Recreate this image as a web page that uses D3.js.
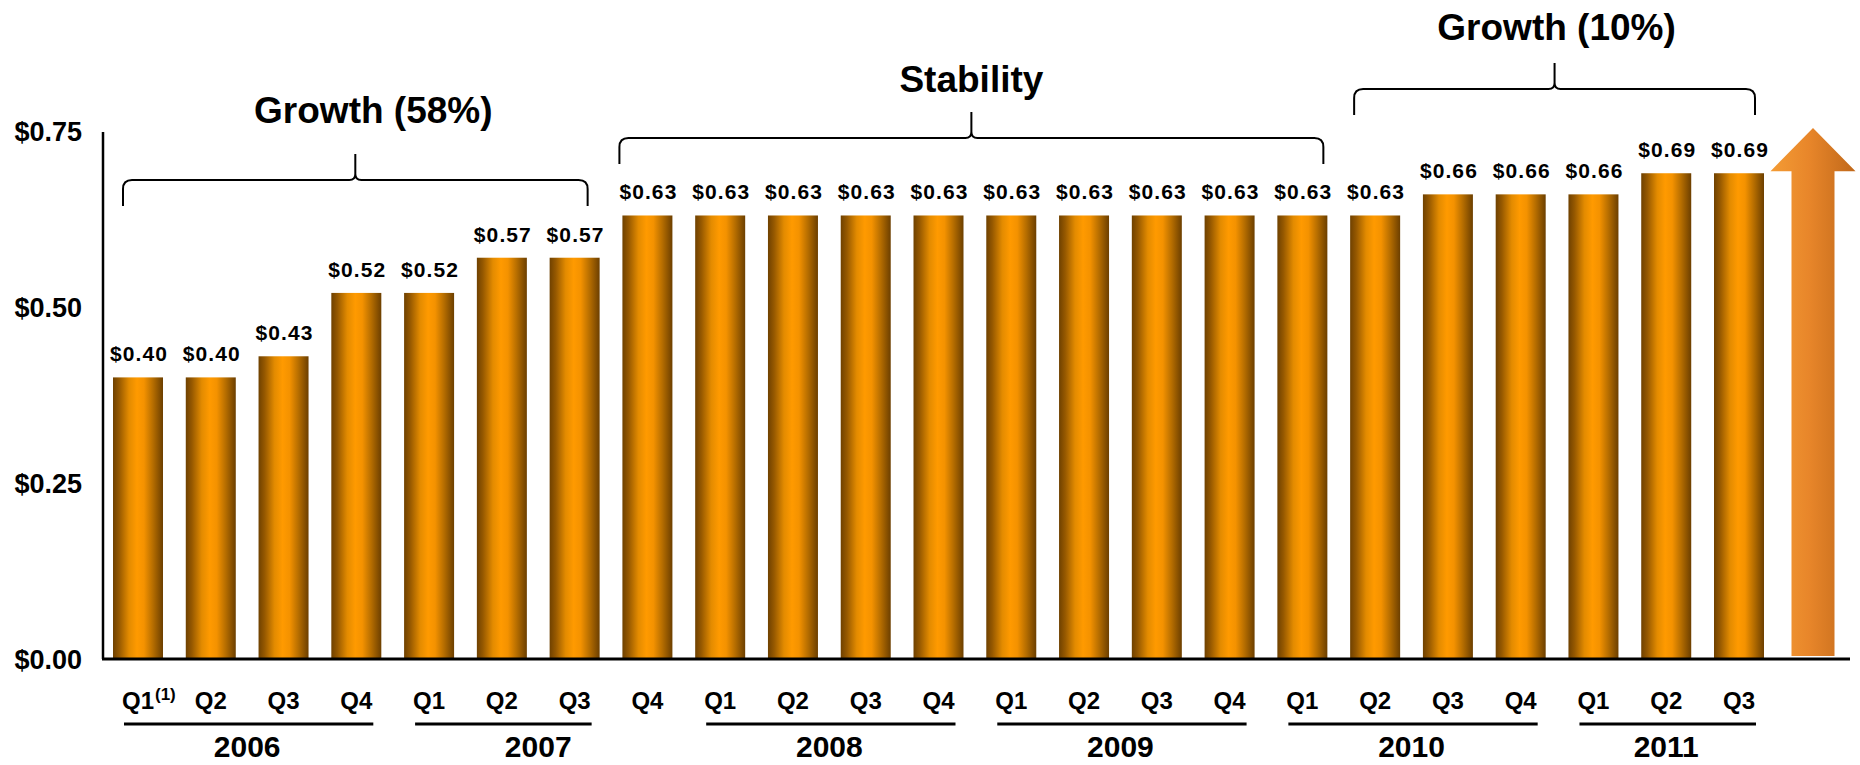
<!DOCTYPE html>
<html>
<head>
<meta charset="utf-8">
<script src="https://cdn.jsdelivr.net/npm/d3@7"></script>
<style>
  html, body { margin: 0; padding: 0; background: #fff; }
  svg { display: block; }
  text { font-family: "Liberation Sans", Arial, Helvetica, sans-serif; font-weight: bold; fill: #000; }
</style>
</head>
<body>
<svg id="chart" width="1860" height="765"></svg>
<script>
// ---------- data ----------
const categories = ["Q1","Q2","Q3","Q4","Q1","Q2","Q3","Q4","Q1","Q2","Q3","Q4",
                    "Q1","Q2","Q3","Q4","Q1","Q2","Q3","Q4","Q1","Q2","Q3"];
const values = [0.40,0.40,0.43,0.52,0.52,0.57,0.57,0.63,0.63,0.63,0.63,0.63,
                0.63,0.63,0.63,0.63,0.63,0.63,0.66,0.66,0.66,0.69,0.69];
const footnoteMarks = ["(1)"];            // attached to the first category
const yTicks = [0, 0.25, 0.50, 0.75];
const yTickLabels = ["$0.00","$0.25","$0.50","$0.75"];
const years = ["2006","2007","2008","2009","2010","2011"];
const yearFirst = [0, 4, 8, 12, 16, 20];
const yearLast = [3, 7, 11, 15, 19, 22];
const yearUnderlineLast = [3, 6, 11, 15, 19, 22];
const phases = ["Growth (58%)","Stability","Growth (10%)"];
const phaseFirst = [0, 7, 17];
const phaseLast = [6, 16, 22];

// ---------- layout ----------
const svg = d3.select("#chart");
const x = d3.scaleBand().domain(d3.range(categories.length))
  .range([113, 1764]).paddingInner(0.313).paddingOuter(0);
const y = d3.scaleLinear().domain([0, 0.75]).range([659, 131]);
const axisX0 = 103, axisX1 = 1850;

// bracket layout (per phase): horizontal line y, end insets, title baseline, title shift
const bracketLayout = [
  { h: 180, inL: 10, inR: 12, tb: 123, tdx: 18 },
  { h: 138, inL: -3, inR: 4, tb: 92, tdx: 0 },
  { h: 89,  inL: 4,  inR: 9, tb: 40, tdx: 2 }
];

// ---------- gradients ----------
const defs = svg.append("defs");
const bg = defs.append("linearGradient").attr("id","barGrad")
  .attr("x1","0%").attr("x2","100%").attr("y1","0%").attr("y2","0%");
[["0%","#6f4100"],["12%","#955800"],["32%","#e38b00"],["48%","#ff9a00"],
 ["62%","#f49200"],["80%","#b56d00"],["100%","#6c3f00"]]
  .forEach(([o,c]) => bg.append("stop").attr("offset",o).attr("stop-color",c));
const ag = defs.append("linearGradient").attr("id","arrowGrad")
  .attr("x1","0%").attr("x2","100%").attr("y1","0%").attr("y2","0%");
[["0%","#f49c35"],["45%","#e8862a"],["100%","#c0681a"]]
  .forEach(([o,c]) => ag.append("stop").attr("offset",o).attr("stop-color",c));

// ---------- bars ----------
svg.append("g").selectAll("rect").data(values).join("rect")
  .attr("x", (d,i) => x(i))
  .attr("y", d => y(d))
  .attr("width", x.bandwidth())
  .attr("height", d => y(0) - y(d))
  .attr("fill", "url(#barGrad)");

// value labels
svg.append("g").selectAll("text").data(values).join("text")
  .attr("x", (d,i) => x(i) + x.bandwidth()/2 + 1)
  .attr("y", d => y(d) - 16)
  .attr("text-anchor","middle")
  .attr("font-size", 21)
  .attr("letter-spacing", "1.1px")
  .text(d => "$" + d.toFixed(2));

// ---------- arrow ----------
(function(){
  const last = categories.length - 1;
  const cx = x(last) + x.bandwidth()/2 + 74;
  const top = y(0.75) - 3, headBase = y(0.69) - 2, bottom = y(0) - 3;
  const hw = 42.5, sw = 21.5;
  svg.append("path")
    .attr("d", `M${cx},${top} L${cx+hw},${headBase} L${cx+sw},${headBase} L${cx+sw},${bottom}
               L${cx-sw},${bottom} L${cx-sw},${headBase} L${cx-hw},${headBase} Z`)
    .attr("fill","url(#arrowGrad)");
})();

// ---------- axes ----------
const yAxis = d3.axisLeft(y).tickValues(yTicks)
  .tickFormat((d,i) => yTickLabels[i]).tickSize(0).tickPadding(21);
const gy = svg.append("g").attr("transform", `translate(${axisX0},0)`).call(yAxis);
gy.select(".domain").attr("stroke","#000").attr("stroke-width",2.5)
  .attr("d", `M0,${y(0)}V${y(0.75)+1}`);
gy.selectAll("text").attr("font-size",27).attr("font-family",null)
  .attr("dy","0.35em").attr("fill","#000");

svg.append("line").attr("x1", axisX0 - 1).attr("x2", axisX1)
  .attr("y1", y(0)).attr("y2", y(0)).attr("stroke","#000").attr("stroke-width",3);

const xAxis = d3.axisBottom(x).tickFormat(i => categories[i]).tickSize(0);
const gx = svg.append("g").attr("transform", `translate(0,${y(0)})`).call(xAxis);
gx.select(".domain").remove();
gx.selectAll("text").attr("font-size",24).attr("font-family",null)
  .attr("fill","#000").attr("dy", null).attr("y", 50);
// footnote superscript
gx.selectAll(".tick").filter((d,i) => i === 0).append("text")
  .attr("x", 17).attr("y", 41).attr("font-size", 17).attr("text-anchor","start")
  .attr("fill","#000").text(footnoteMarks[0]);

// year underlines + labels
const yg = svg.append("g");
years.forEach((yr, k) => {
  const x0 = x(yearFirst[k]) + 11;
  const x1 = x(yearUnderlineLast[k]) + x.bandwidth() - 8;
  yg.append("line").attr("x1", x0).attr("x2", x1).attr("y1", 724).attr("y2", 724)
    .attr("stroke","#000").attr("stroke-width",3);
  const cx = (x(yearFirst[k]) + x(yearLast[k]) + x.bandwidth()) / 2;
  yg.append("text").attr("x", cx).attr("y", 757).attr("text-anchor","middle")
    .attr("font-size", 30).text(yr);
});

// ---------- phase brackets ----------
const bgp = svg.append("g");
phases.forEach((p, k) => {
  const L = bracketLayout[k];
  const xl = x(phaseFirst[k]) + L.inL;
  const xr = x(phaseLast[k]) + x.bandwidth() - L.inR;
  const xm = (xl + xr) / 2;
  const h = L.h, top = h - 26, bot = h + 26, r = 9, c = 6;
  const d = `M${xl},${bot} L${xl},${h + r} Q${xl},${h} ${xl + r},${h}
             L${xm - c},${h} Q${xm},${h} ${xm},${h - c} L${xm},${top}
             M${xm},${h - c} Q${xm},${h} ${xm + c},${h}
             L${xr - r},${h} Q${xr},${h} ${xr},${h + r} L${xr},${bot}`;
  bgp.append("path").attr("d", d).attr("fill","none")
    .attr("stroke","#000").attr("stroke-width",2);
  bgp.append("text").attr("x", xm + L.tdx).attr("y", L.tb)
    .attr("text-anchor","middle").attr("font-size",37).text(p);
});
</script>
</body>
</html>
